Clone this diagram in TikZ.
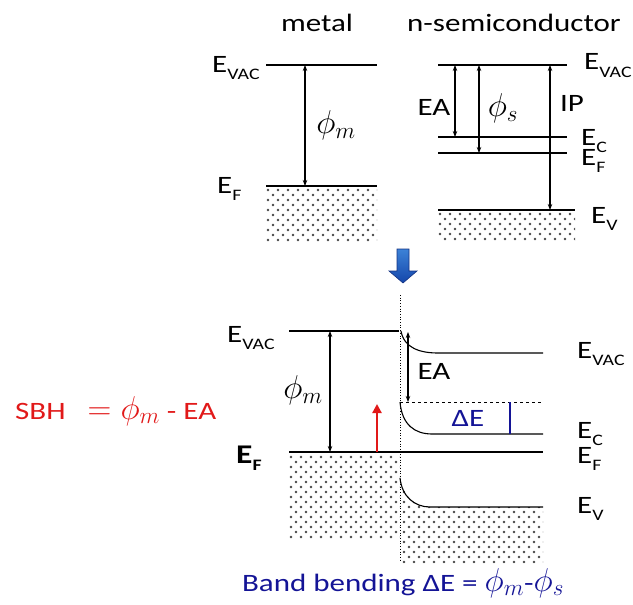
\RequirePackage{fix-cm}
\documentclass[tikz,border=0pt]{standalone}
\usepackage{fontspec}
\setmainfont{Carlito}[FakeStretch=1.24]
\usetikzlibrary{arrows.meta}
\definecolor{sbhred}{RGB}{225,25,25}
\definecolor{bbblue}{RGB}{20,20,150}
\definecolor{dotgray}{RGB}{70,70,70}
\newcommand\Elev[1]{E\raisebox{-0.28em}{\fontsize{16}{16}\selectfont #1}}
\newcommand\Mth[1]{{\fontsize{33}{33}\selectfont$#1$}}
\newcommand\dotgrid[4]{% x0, y0, ni, nj
  \foreach \i in {0,...,#3}{\foreach \j in {0,...,#4}{%
    \fill[dotgray] ({#1+10*\i},{#2+10*\j}) circle (1.3);
    \fill[dotgray] ({#1+5+10*\i},{#2+5+10*\j}) circle (1.3);}}}
\tikzset{
  level/.style={line width=1.1pt},
  gap/.style={line width=1.1pt,{Stealth[length=6pt,width=4.5pt]}-{Stealth[length=6pt,width=4.5pt]}},
  lbl/.style={inner sep=0pt,font=\fontsize{25}{30}\selectfont},
}
\begin{document}
\begin{tikzpicture}[x=1pt,y=-1pt]
\useasboundingbox (0,0) rectangle (633,605);
% ---------- top: isolated ----------
\node[lbl] (tmetal) at (317,23) {metal};
\node[lbl] (tsemi) at (514,23) {n-semiconductor};
% metal levels
\coordinate (mvacL) at (266,65); \coordinate (mvacR) at (377,65);
\coordinate (mfL) at (266,186); \coordinate (mfR) at (377,186);
\draw[level] (mvacL) -- (mvacR);
\draw[level] (mfL) -- (mfR);
\begin{scope}
  \clip (266,187) rectangle (377,241);
  \dotgrid{268}{190}{11}{5}
\end{scope}
\coordinate (pmT) at (305,65); \coordinate (pmB) at (305,186);
\draw[gap] (pmT) -- (pmB);
\node[lbl] (tphim) at (336,125) {\Mth{\phi_m}};
\node[lbl,anchor=base west] (tmvac) at (212,72) {\Elev{VAC}};
\node[lbl,anchor=base west] (tmf) at (217,193) {\Elev{F}};
% semiconductor levels
\coordinate (svacL) at (438,65); \coordinate (svacR) at (567,65);
\coordinate (scL) at (438,137); \coordinate (scR) at (567,137);
\coordinate (sfL) at (438,153); \coordinate (sfR) at (567,153);
\coordinate (svL) at (438,210); \coordinate (svR) at (575,210);
\draw[level] (svacL) -- (svacR);
\draw[level] (scL) -- (scR);
\draw[level] (sfL) -- (sfR);
\draw[level] (svL) -- (svR);
\begin{scope}
  \clip (438,211) rectangle (575,241);
  \dotgrid{440}{214}{14}{3}
\end{scope}
\coordinate (eaT) at (455,65); \coordinate (eaB) at (455,137);
\coordinate (psT) at (479,65); \coordinate (psB) at (479,153);
\coordinate (ipT) at (550,65); \coordinate (ipB) at (550,210);
\draw[gap] (eaT) -- (eaB);
\draw[gap] (psT) -- (psB);
\draw[gap] (ipT) -- (ipB);
\node[lbl] (tea) at (434,107) {EA};
\node[lbl] (tphis) at (503,108) {\Mth{\phi_s}};
\node[lbl] (tip) at (572,103) {IP};
\node[lbl,anchor=base west] (tsvac) at (584,70) {\Elev{VAC}};
\node[lbl,anchor=base west] (tsc) at (581,145) {\Elev{C}};
\node[lbl,anchor=base west] (tsf) at (581,165) {\Elev{F}};
\node[lbl,anchor=base west] (tsv) at (591,223) {\Elev{V}};
% ---------- blue arrow ----------
\path[top color={rgb,255:red,60;green,130;blue,215},bottom color={rgb,255:red,20;green,70;blue,170},draw={rgb,255:red,20;green,50;blue,130},line width=0.6pt]
  (397,249) -- (409,249) -- (409,271) -- (417,271) -- (403,283) -- (389,271) -- (397,271) -- cycle;
% ---------- bottom: contact ----------
\coordinate (ifT) at (400,295); \coordinate (ifB) at (400,562);
\begin{scope}
  \clip (289,453) rectangle (400,539);
  \dotgrid{291}{457}{11}{8}
\end{scope}
\begin{scope}
  \clip (401,478) .. controls (403,497) and (415,507) .. (430,507) -- (543,507) -- (543,563) -- (401,563) -- cycle;
  \dotgrid{404}{482}{14}{8}
\end{scope}
\draw[dotted,line width=0.7pt] (ifT) -- (ifB);
\coordinate (bmvacL) at (289,331); \coordinate (bmvacR) at (399,331);
\coordinate (bfL) at (289,452); \coordinate (bfR) at (543,452);
\draw[level] (bmvacL) -- (bmvacR);
\draw[level] (bfL) -- (bfR);
\coordinate (bsvacS) at (401,331); \coordinate (bsvacR) at (543,353);
\draw[level] (bsvacS) .. controls (404,348) and (420,353) .. (438,353) -- (bsvacR);
\coordinate (bscS) at (400,402); \coordinate (bscR) at (543,434);
\draw[level] (bscS) .. controls (402,425) and (415,434) .. (432,434) -- (bscR);
\coordinate (bsvS) at (400,478); \coordinate (bsvR) at (543,507);
\draw[level] (bsvS) .. controls (402,497) and (415,507) .. (430,507) -- (bsvR);
\coordinate (dashR) at (543,402);
\draw[dashed,line width=0.9pt] (bscS) -- (dashR);
\coordinate (bpmT) at (330,331); \coordinate (bpmB) at (330,452);
\draw[gap] (bpmT) -- (bpmB);
\coordinate (beaT) at (408,332); \coordinate (beaB) at (408,402);
\draw[gap,line width=1.4pt] (beaT) -- (beaB);
\coordinate (redB) at (377,452); \coordinate (redT) at (377,404);
\draw[sbhred,line width=2.2pt,-{Triangle[length=9pt,width=9pt]}] (redB) -- (redT);
\coordinate (deT) at (510,402); \coordinate (deB) at (510,434);
\draw[bbblue,line width=2.6pt] (deT) -- (deB);
\node[lbl] (bphim) at (303,390) {\Mth{\phi_m}};
\node[lbl] (bea) at (434,371) {EA};
\node[lbl,text=bbblue] (bde) at (468,418) {ΔE};
\node[lbl,anchor=base west] (bmvac) at (227,342) {\Elev{VAC}};
\node[lbl,anchor=base west,font=\fontsize{27}{30}\selectfont\bfseries] (bmf) at (236,463) {\Elev{F}};
\node[lbl,anchor=base west] (bsvac) at (577,358) {\Elev{VAC}};
\node[lbl,anchor=base west] (bsc) at (577,438) {\Elev{C}};
\node[lbl,anchor=base west] (bsf) at (577,463) {\Elev{F}};
\node[lbl,anchor=base west] (bsv) at (577,513) {\Elev{V}};
\node[lbl,text=bbblue,anchor=base] (bband) at (403,591) {Band bending ΔE = \Mth{\phi_m}-\Mth{\phi_s}};
\node[lbl,text=sbhred,anchor=base west] (sbh) at (15,419) {SBH\hspace{22pt}\Mth{=\phi_m} - EA};
\end{tikzpicture}
\end{document}
